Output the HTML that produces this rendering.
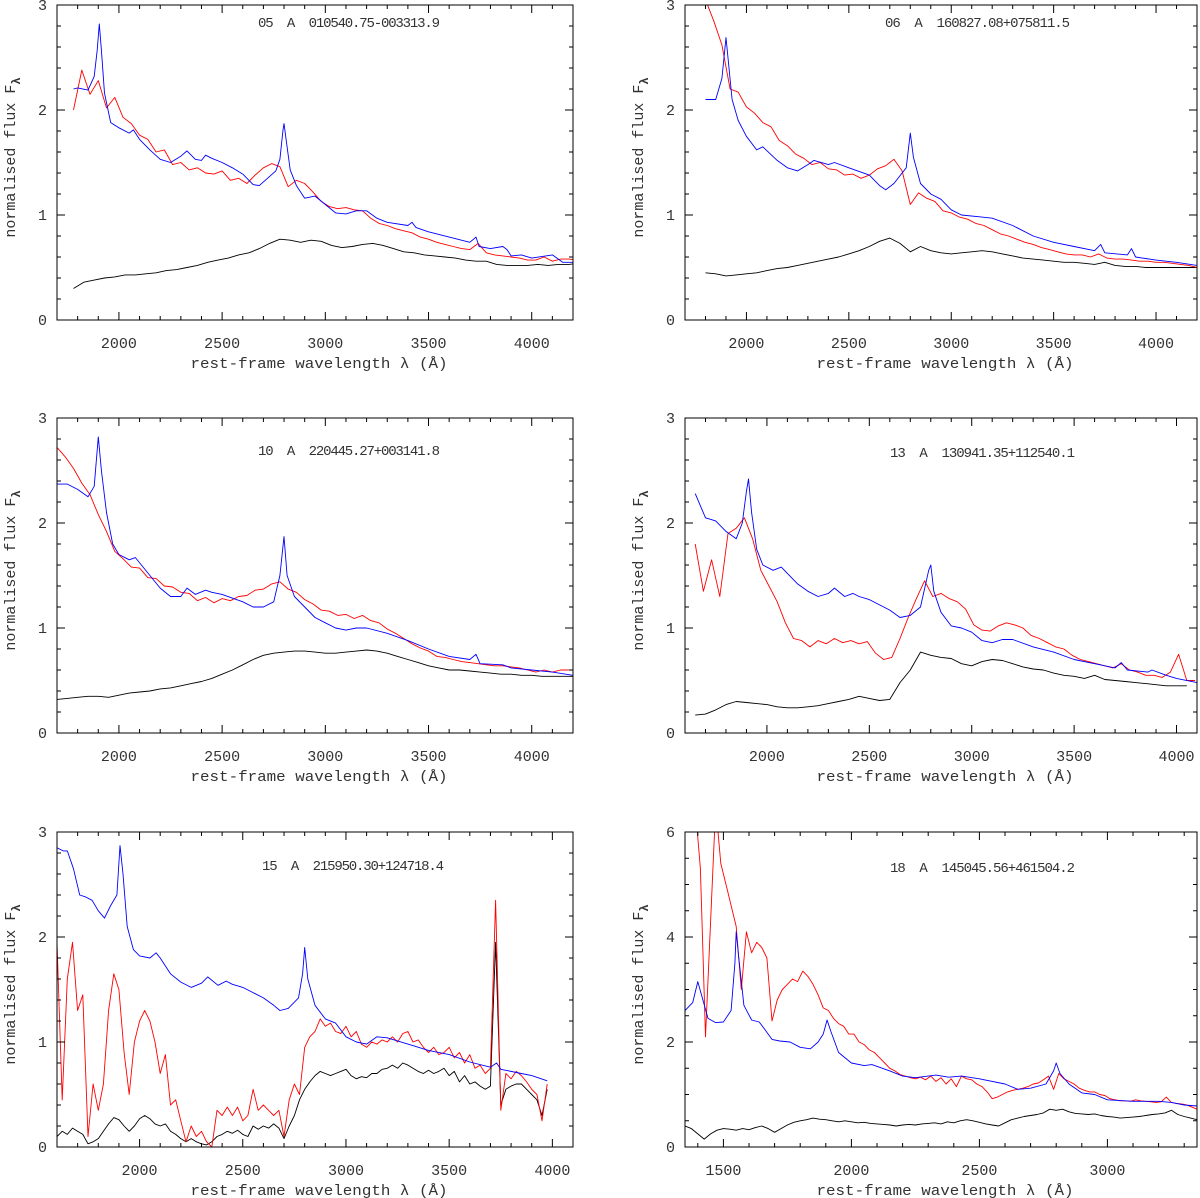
<!DOCTYPE html>
<html><head><meta charset="utf-8">
<style>
html,body{margin:0;padding:0;background:#fff;}
svg{display:block;}
text{font-family:"Liberation Mono","DejaVu Sans Mono",monospace;fill:#333;}
.ann{white-space:pre;}
</style></head>
<body>
<svg id="fig" width="1200" height="1198" viewBox="0 0 1200 1198" xmlns="http://www.w3.org/2000/svg"></svg>
<script>
// ---------- Panel 05 ----------
const p05BlueWl=[1780,1800,1850,1880,1895,1905,1915,1930,1960,2000,2050,2070,2100,2150,2200,2250,2300,2330,2370,2400,2420,2450,2500,2550,2600,2650,2680,2720,2760,2780,2795,2800,2810,2830,2860,2900,2950,3000,3050,3100,3150,3200,3250,3300,3400,3420,3440,3500,3600,3700,3730,3745,3800,3860,3880,3900,3950,4000,4100,4150,4200];
const p05BlueFlux=[2.2,2.21,2.19,2.32,2.57,2.82,2.57,2.16,1.88,1.83,1.78,1.81,1.72,1.62,1.53,1.5,1.56,1.61,1.53,1.52,1.57,1.54,1.5,1.45,1.39,1.29,1.28,1.35,1.42,1.53,1.81,1.87,1.72,1.43,1.28,1.16,1.18,1.1,1.02,1.01,1.04,1.04,0.97,0.93,0.9,0.93,0.88,0.84,0.79,0.74,0.79,0.7,0.68,0.7,0.67,0.61,0.62,0.59,0.62,0.55,0.55];
const p05RedStart=1780, p05RedStep=40;
const p05RedFlux=[2.0,2.38,2.15,2.28,2.02,2.12,1.93,1.87,1.76,1.72,1.6,1.62,1.48,1.5,1.43,1.45,1.4,1.39,1.42,1.33,1.35,1.3,1.38,1.45,1.49,1.46,1.27,1.33,1.3,1.22,1.13,1.08,1.06,1.07,1.05,1.04,0.97,0.92,0.9,0.87,0.85,0.83,0.79,0.77,0.74,0.72,0.7,0.68,0.67,0.73,0.64,0.62,0.61,0.6,0.59,0.57,0.57,0.6,0.56,0.58,0.58,0.57];
const p05BlackStart=1780, p05BlackStep=50;
const p05BlackFlux=[0.3,0.36,0.38,0.4,0.41,0.43,0.43,0.44,0.45,0.47,0.48,0.5,0.52,0.55,0.57,0.59,0.62,0.64,0.68,0.73,0.77,0.76,0.74,0.76,0.75,0.71,0.69,0.7,0.72,0.73,0.71,0.68,0.65,0.64,0.62,0.61,0.6,0.59,0.57,0.56,0.56,0.53,0.52,0.52,0.52,0.53,0.52,0.53,0.53,0.54];
// ---------- Panel 06 ----------
const p06BlueWl=[1800,1850,1880,1900,1930,1960,2000,2050,2080,2150,2200,2250,2300,2330,2400,2430,2500,2600,2650,2680,2720,2780,2800,2815,2850,2900,2950,3000,3050,3150,3200,3300,3400,3500,3600,3700,3730,3750,3860,3880,3900,4000,4100,4200];
const p06BlueFlux=[2.1,2.1,2.3,2.69,2.1,1.9,1.75,1.62,1.65,1.52,1.45,1.42,1.48,1.52,1.48,1.5,1.45,1.38,1.28,1.24,1.3,1.45,1.78,1.55,1.3,1.2,1.15,1.05,1.0,0.98,0.97,0.9,0.8,0.74,0.7,0.66,0.72,0.64,0.62,0.68,0.6,0.57,0.55,0.52];
const p06RedStart=1800, p06RedStep=40;
const p06RedFlux=[3.05,2.85,2.62,2.2,2.17,2.03,1.97,1.88,1.84,1.71,1.66,1.58,1.54,1.48,1.5,1.44,1.43,1.38,1.39,1.35,1.38,1.44,1.47,1.53,1.42,1.1,1.21,1.16,1.13,1.04,1.02,0.98,0.96,0.92,0.9,0.86,0.82,0.8,0.77,0.74,0.72,0.69,0.67,0.65,0.63,0.62,0.62,0.6,0.63,0.59,0.58,0.58,0.57,0.56,0.56,0.55,0.55,0.54,0.53,0.52,0.5];
const p06BlackStart=1800, p06BlackStep=50;
const p06BlackFlux=[0.45,0.44,0.42,0.43,0.44,0.45,0.47,0.49,0.5,0.52,0.54,0.56,0.58,0.6,0.63,0.66,0.7,0.75,0.78,0.73,0.65,0.7,0.66,0.64,0.63,0.64,0.65,0.66,0.65,0.63,0.61,0.59,0.58,0.57,0.56,0.55,0.55,0.54,0.53,0.55,0.52,0.51,0.51,0.5,0.5,0.5,0.5,0.5,0.5];
// ---------- Panel 10 ----------
const p10BlueWl=[1700,1750,1800,1850,1880,1900,1915,1940,1970,2000,2050,2080,2150,2200,2250,2300,2330,2370,2420,2450,2500,2600,2650,2700,2750,2780,2800,2815,2850,2900,2950,3000,3050,3100,3150,3200,3300,3400,3500,3600,3700,3730,3750,3860,3900,4000,4100,4200];
const p10BlueFlux=[2.37,2.37,2.32,2.25,2.35,2.82,2.5,2.1,1.8,1.7,1.65,1.67,1.5,1.38,1.3,1.3,1.38,1.32,1.36,1.34,1.32,1.25,1.2,1.2,1.25,1.5,1.87,1.5,1.3,1.2,1.1,1.05,1.0,0.98,1.0,1.0,0.95,0.88,0.8,0.73,0.7,0.75,0.66,0.65,0.62,0.6,0.58,0.55];
const p10RedStart=1700, p10RedStep=40;
const p10RedFlux=[2.72,2.63,2.52,2.38,2.27,2.08,1.92,1.73,1.66,1.58,1.57,1.48,1.47,1.4,1.39,1.34,1.33,1.26,1.29,1.24,1.28,1.26,1.3,1.31,1.36,1.37,1.42,1.44,1.37,1.34,1.27,1.23,1.17,1.16,1.12,1.13,1.09,1.12,1.07,1.05,0.99,0.95,0.9,0.85,0.81,0.78,0.73,0.72,0.7,0.68,0.67,0.66,0.65,0.64,0.64,0.63,0.62,0.6,0.58,0.6,0.58,0.6,0.6];
const p10BlackStart=1700, p10BlackStep=50;
const p10BlackFlux=[0.32,0.33,0.34,0.35,0.35,0.34,0.36,0.38,0.39,0.4,0.42,0.43,0.45,0.47,0.49,0.52,0.56,0.6,0.65,0.7,0.74,0.76,0.77,0.78,0.78,0.77,0.76,0.76,0.77,0.78,0.79,0.78,0.76,0.73,0.7,0.67,0.64,0.62,0.6,0.6,0.59,0.58,0.57,0.56,0.56,0.55,0.55,0.54,0.54,0.54,0.54];
// ---------- Panel 13 ----------
const p13BlueWl=[1650,1700,1750,1800,1850,1880,1900,1910,1925,1950,1980,2030,2070,2100,2150,2200,2250,2300,2330,2380,2420,2450,2500,2550,2600,2650,2700,2750,2790,2800,2815,2850,2900,2950,3000,3050,3100,3150,3200,3300,3400,3500,3600,3700,3730,3760,3860,3880,3950,4000,4100];
const p13BlueFlux=[2.28,2.05,2.02,1.92,1.85,2.0,2.3,2.42,2.1,1.75,1.6,1.55,1.58,1.52,1.42,1.35,1.3,1.33,1.38,1.3,1.33,1.3,1.27,1.22,1.17,1.1,1.12,1.2,1.55,1.6,1.35,1.15,1.02,1.0,0.96,0.88,0.86,0.89,0.89,0.82,0.77,0.7,0.66,0.62,0.67,0.6,0.58,0.6,0.55,0.52,0.48];
const p13RedStart=1650, p13RedStep=40;
const p13RedFlux=[1.8,1.35,1.65,1.3,1.9,1.95,2.05,1.85,1.55,1.4,1.25,1.05,0.9,0.88,0.82,0.88,0.85,0.9,0.86,0.88,0.85,0.87,0.76,0.7,0.72,0.9,1.1,1.28,1.45,1.3,1.33,1.28,1.25,1.18,1.03,0.98,0.97,1.02,1.05,1.03,1.0,0.93,0.9,0.86,0.82,0.8,0.74,0.7,0.68,0.66,0.64,0.62,0.66,0.6,0.58,0.55,0.55,0.53,0.58,0.75,0.5,0.5];
const p13BlackStart=1650, p13BlackStep=50;
const p13BlackFlux=[0.17,0.18,0.22,0.27,0.3,0.29,0.28,0.27,0.25,0.24,0.24,0.25,0.26,0.28,0.3,0.32,0.35,0.33,0.31,0.32,0.48,0.6,0.77,0.74,0.72,0.71,0.66,0.64,0.68,0.7,0.69,0.66,0.63,0.61,0.6,0.57,0.55,0.54,0.52,0.55,0.51,0.5,0.49,0.48,0.47,0.46,0.45,0.45,0.45];
// ---------- Panel 15 ----------
const p15BlueWl=[1600,1630,1650,1680,1710,1740,1770,1800,1830,1860,1890,1905,1920,1940,1970,2000,2050,2080,2100,2150,2200,2250,2300,2330,2380,2420,2450,2500,2550,2600,2650,2680,2720,2770,2790,2800,2815,2850,2900,2950,3000,3050,3100,3150,3200,3300,3400,3500,3600,3700,3730,3750,3850,3900,3975];
const p15BlueFlux=[2.85,2.82,2.82,2.65,2.4,2.38,2.35,2.25,2.18,2.3,2.4,2.87,2.6,2.1,1.88,1.82,1.8,1.85,1.8,1.65,1.57,1.52,1.56,1.62,1.54,1.58,1.55,1.52,1.47,1.42,1.35,1.3,1.32,1.42,1.65,1.9,1.6,1.35,1.22,1.18,1.05,1.0,0.98,1.05,1.04,0.98,0.92,0.88,0.81,0.76,0.8,0.74,0.7,0.68,0.63];
const p15RedStart=1600, p15RedStep=25;
const p15RedFlux=[1.95,0.45,1.6,1.95,1.3,1.45,0.1,0.6,0.35,0.6,1.3,1.65,1.5,0.9,0.5,1.0,1.2,1.3,1.2,1.0,0.7,0.88,0.4,0.45,0.25,0.05,0.2,0.1,0.15,0.05,0.0,0.35,0.3,0.38,0.3,0.38,0.25,0.3,0.55,0.35,0.4,0.35,0.3,0.35,0.1,0.45,0.6,0.5,0.95,1.05,1.1,1.22,1.15,1.18,1.1,1.08,1.15,1.05,1.1,0.98,0.95,1.0,0.98,1.02,1.0,1.05,1.0,1.08,1.1,1.0,1.02,0.95,0.9,0.95,0.88,0.9,0.95,0.85,0.9,0.8,0.88,0.75,0.78,0.7,0.75,2.35,0.35,0.7,0.65,0.72,0.68,0.62,0.55,0.5,0.25,0.6];
const p15BlackStart=1600, p15BlackStep=25;
const p15BlackFlux=[0.1,0.15,0.12,0.18,0.15,0.12,0.03,0.05,0.08,0.15,0.22,0.28,0.26,0.2,0.15,0.2,0.27,0.3,0.27,0.22,0.2,0.22,0.15,0.12,0.08,0.05,0.08,0.05,0.03,0.02,0.05,0.1,0.12,0.15,0.13,0.16,0.12,0.1,0.2,0.17,0.2,0.18,0.22,0.18,0.08,0.2,0.3,0.45,0.55,0.62,0.68,0.72,0.7,0.68,0.7,0.72,0.74,0.68,0.65,0.67,0.66,0.7,0.7,0.74,0.75,0.78,0.75,0.8,0.78,0.75,0.72,0.7,0.73,0.7,0.72,0.75,0.68,0.72,0.62,0.68,0.6,0.62,0.58,0.55,0.58,1.95,0.4,0.55,0.58,0.6,0.6,0.55,0.5,0.45,0.3,0.55];
// ---------- Panel 18 ----------
const p18BlueWl=[1350,1380,1400,1420,1440,1470,1500,1530,1545,1550,1560,1580,1610,1640,1660,1690,1720,1760,1800,1840,1870,1890,1905,1920,1950,2000,2050,2080,2150,2200,2250,2300,2330,2380,2430,2500,2600,2650,2700,2760,2790,2800,2815,2850,2900,2950,3000,3100,3200,3250,3300,3350];
const p18BlueFlux=[2.6,2.75,3.15,2.8,2.45,2.37,2.38,2.6,3.5,4.1,3.6,2.7,2.42,2.38,2.25,2.05,2.02,2.0,1.9,1.87,2.0,2.15,2.42,2.2,1.8,1.6,1.55,1.57,1.45,1.35,1.32,1.35,1.37,1.33,1.35,1.3,1.2,1.1,1.12,1.2,1.45,1.6,1.4,1.2,1.03,1.0,0.9,0.87,0.87,0.85,0.8,0.78];
const p18RedStart=1390, p18RedStep=20;
const p18RedFlux=[6.5,5.3,2.1,4.3,6.5,5.4,5.0,4.6,4.2,3.0,4.1,3.7,3.9,3.8,3.6,2.4,2.8,3.0,3.1,3.2,3.15,3.35,3.25,3.1,2.9,2.65,2.6,2.45,2.35,2.3,2.15,2.15,2.0,1.95,1.85,1.8,1.7,1.6,1.5,1.45,1.38,1.35,1.32,1.3,1.33,1.28,1.35,1.25,1.32,1.2,1.3,1.15,1.35,1.3,1.28,1.2,1.15,1.05,0.92,0.95,1.0,1.05,1.08,1.1,1.12,1.15,1.2,1.22,1.28,1.35,1.1,1.4,1.3,1.25,1.2,1.12,1.08,1.05,1.05,1.0,0.98,0.92,0.9,0.88,0.88,0.87,0.9,0.88,0.87,0.86,0.85,0.86,0.95,0.85,0.83,0.82,0.8,0.76,0.72];
const p18BlackStart=1350, p18BlackStep=25;
const p18BlackFlux=[0.4,0.35,0.25,0.15,0.25,0.32,0.35,0.34,0.32,0.35,0.33,0.37,0.4,0.35,0.28,0.35,0.42,0.47,0.5,0.52,0.55,0.53,0.52,0.5,0.48,0.5,0.48,0.46,0.47,0.45,0.44,0.43,0.42,0.4,0.42,0.43,0.42,0.44,0.45,0.46,0.44,0.48,0.46,0.5,0.52,0.5,0.47,0.44,0.42,0.4,0.46,0.52,0.55,0.58,0.6,0.62,0.65,0.72,0.7,0.72,0.67,0.64,0.63,0.62,0.63,0.6,0.58,0.57,0.55,0.56,0.57,0.58,0.6,0.62,0.63,0.65,0.7,0.62,0.58,0.55,0.52];

const NS="http://www.w3.org/2000/svg";
const svg=document.getElementById('fig');
function mk(tag,attrs,parent){const e=document.createElementNS(NS,tag);for(const k in attrs)e.setAttribute(k,attrs[k]);(parent||svg).appendChild(e);return e;}
function gridWl(start,step,n){const a=[];for(let i=0;i<n;i++)a.push(start+i*step);return a;}

function drawPanel(o){
  const g=mk('g',{});
  
  
  const L=o.box[0],T=o.box[1],R=o.box[2],B=o.box[3];
  const sx=w=>L+(w-o.xr[0])/(o.xr[1]-o.xr[0])*(R-L);
  const sy=v=>B-(v-o.yr[0])/(o.yr[1]-o.yr[0])*(B-T);
  const cp=mk('clipPath',{id:'clip'+o.id},g);
  mk('rect',{x:L,y:T,width:R-L,height:B-T},cp);
  o.series.forEach(s=>{
    let d='';
    for(let i=0;i<s.wl.length&&i<s.f.length;i++){
      if(s.wl[i]<o.xr[0]-50||s.wl[i]>o.xr[1]+50)continue;
      d+=(d?'L':'M')+sx(s.wl[i]).toFixed(1)+' '+sy(s.f[i]).toFixed(1);
    }
    const p=mk('path',{d:d,fill:'none',stroke:s.color,'stroke-width':0.9,'stroke-linejoin':'round','clip-path':'url(#clip'+o.id+')'},g);
    
    
  });
  const fr=mk('rect',{x:L,y:T,width:R-L,height:B-T,fill:'none',stroke:'#000','stroke-width':1},g);
  
  
  for(let w=Math.ceil(o.xr[0]/100)*100;w<=o.xr[1];w+=100){
    const x=sx(w),maj=(w%500===0),len=maj?8:4;
    mk('line',{x1:x,y1:B,x2:x,y2:B-len,stroke:'#000','stroke-width':1},g);
    mk('line',{x1:x,y1:T,x2:x,y2:T+len,stroke:'#000','stroke-width':1},g);
    if(maj){const t=mk('text',{x:x,y:B+28,'text-anchor':'middle','font-size':15},g);t.textContent=w;
      
      }
  }
  const nMin=Math.round((o.yr[1]-o.yr[0])/o.yMinor);
  for(let i=0;i<=nMin;i++){
    const v=o.yr[0]+i*o.yMinor,y=sy(v);
    const maj=Math.abs(v/o.yMajor-Math.round(v/o.yMajor))<1e-6,len=maj?8:4;
    mk('line',{x1:L,y1:y,x2:L+len,y2:y,stroke:'#000','stroke-width':1},g);
    mk('line',{x1:R,y1:y,x2:R-len,y2:y,stroke:'#000','stroke-width':1},g);
    if(maj){const t=mk('text',{x:L-10,y:y+5,'text-anchor':'end','font-size':15},g);t.textContent=Math.round(v);
      
      }
  }
  const xt=mk('text',{x:(L+R)/2+4,y:B+48,'text-anchor':'middle','font-size':15,textLength:257,lengthAdjust:'spacingAndGlyphs'},g);
  xt.textContent='rest-frame wavelength λ (Å)';
  
  
  const cy=(T+B)/2-5, tx=L-42;
  const yt=mk('text',{transform:'translate('+tx+','+cy+') rotate(-90)','text-anchor':'middle','font-size':15},g);
  
  
  const t1=mk('tspan',{},yt);t1.textContent='normalised flux F';
  const t2=mk('tspan',{dy:5,'font-size':12,'font-weight':'bold'},yt);t2.textContent='λ';
  const an=mk('text',{x:o.ann[0],y:o.ann[1],'font-size':14,textLength:o.ann[2],lengthAdjust:'spacing','class':'ann'},g);
  an.textContent=o.label;
  
  
}

function S(name,color,wl,f){return {name:name,color:color,wl:wl,f:f};}

drawPanel({id:'05',box:[57,5,573,320],xr:[1700,4200],yr:[0,3],yMajor:1,yMinor:0.2,ann:[258,27,182],label:'05  A  010540.75-003313.9',
  series:[S('black-spectrum','#000',gridWl(p05BlackStart,p05BlackStep,p05BlackFlux.length),p05BlackFlux),
          S('red-spectrum','#ff0000',gridWl(p05RedStart,p05RedStep,p05RedFlux.length),p05RedFlux),
          S('blue-template','#0000ff',p05BlueWl,p05BlueFlux)]});
drawPanel({id:'06',box:[685,5,1197,320],xr:[1700,4200],yr:[0,3],yMajor:1,yMinor:0.2,ann:[885,27,185],label:'06  A  160827.08+075811.5',
  series:[S('black-spectrum','#000',gridWl(p06BlackStart,p06BlackStep,p06BlackFlux.length),p06BlackFlux),
          S('red-spectrum','#ff0000',gridWl(p06RedStart,p06RedStep,p06RedFlux.length),p06RedFlux),
          S('blue-template','#0000ff',p06BlueWl,p06BlueFlux)]});
drawPanel({id:'10',box:[57,418,573,733],xr:[1700,4200],yr:[0,3],yMajor:1,yMinor:0.2,ann:[258,455,182],label:'10  A  220445.27+003141.8',
  series:[S('black-spectrum','#000',gridWl(p10BlackStart,p10BlackStep,p10BlackFlux.length),p10BlackFlux),
          S('red-spectrum','#ff0000',gridWl(p10RedStart,p10RedStep,p10RedFlux.length),p10RedFlux),
          S('blue-template','#0000ff',p10BlueWl,p10BlueFlux)]});
drawPanel({id:'13',box:[685,418,1197,733],xr:[1600,4100],yr:[0,3],yMajor:1,yMinor:0.2,ann:[890,457,185],label:'13  A  130941.35+112540.1',
  series:[S('black-spectrum','#000',gridWl(p13BlackStart,p13BlackStep,p13BlackFlux.length),p13BlackFlux),
          S('red-spectrum','#ff0000',gridWl(p13RedStart,p13RedStep,p13RedFlux.length),p13RedFlux),
          S('blue-template','#0000ff',p13BlueWl,p13BlueFlux)]});
drawPanel({id:'15',box:[57,832,573,1147],xr:[1600,4100],yr:[0,3],yMajor:1,yMinor:0.2,ann:[262,870,182],label:'15  A  215950.30+124718.4',
  series:[S('black-spectrum','#000',gridWl(p15BlackStart,p15BlackStep,p15BlackFlux.length),p15BlackFlux),
          S('red-spectrum','#ff0000',gridWl(p15RedStart,p15RedStep,p15RedFlux.length),p15RedFlux),
          S('blue-template','#0000ff',p15BlueWl,p15BlueFlux)]});
drawPanel({id:'18',box:[685,832,1197,1147],xr:[1350,3350],yr:[0,6],yMajor:2,yMinor:0.5,ann:[890,872,185],label:'18  A  145045.56+461504.2',
  series:[S('black-spectrum','#000',gridWl(p18BlackStart,p18BlackStep,p18BlackFlux.length),p18BlackFlux),
          S('red-spectrum','#ff0000',gridWl(p18RedStart,p18RedStep,p18RedFlux.length),p18RedFlux),
          S('blue-template','#0000ff',p18BlueWl,p18BlueFlux)]});
</script>
</body></html>
